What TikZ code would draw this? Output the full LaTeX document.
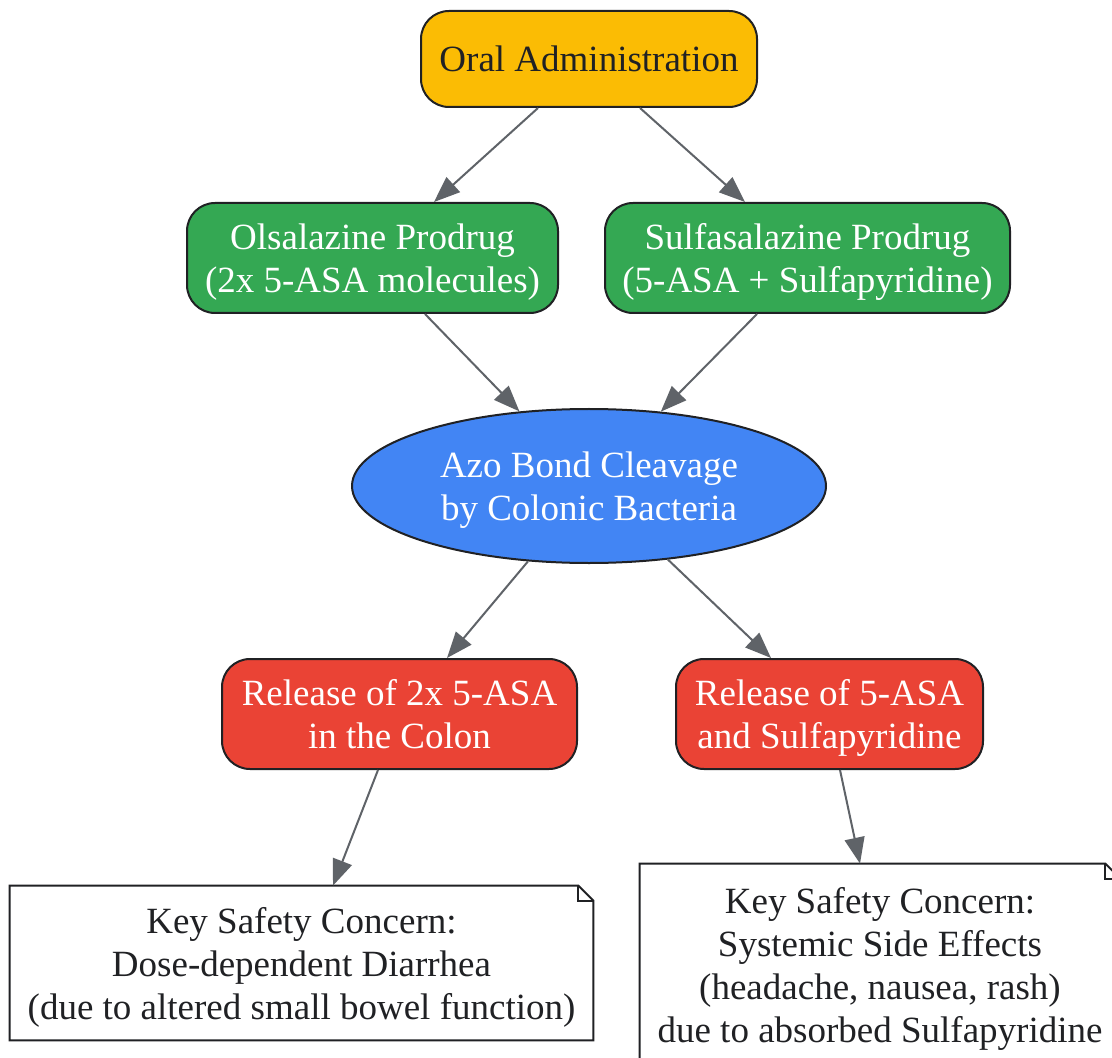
\documentclass[tikz,border=0pt]{standalone}
\usepackage{fontspec}
\setmainfont{Liberation Serif}
\usepackage{xcolor}
\usetikzlibrary{arrows.meta,shapes.geometric,calc}

\definecolor{inkdark}{HTML}{202124}
\definecolor{edgegray}{HTML}{5F6368}
\definecolor{gyellow}{HTML}{FBBC04}
\definecolor{ggreen}{HTML}{34A853}
\definecolor{gblue}{HTML}{4285F4}
\definecolor{gred}{HTML}{EA4335}

\tikzset{
  box/.style={draw=inkdark, line width=1pt, rounded corners=14pt, align=center,
    inner sep=2pt, text=white, text depth=0pt, font=\fontsize{18.5}{21.5}\selectfont},
  azo/.style={ellipse, draw=inkdark, line width=1pt, fill=gblue, align=center,
    inner sep=0pt, text=white, text depth=0pt, font=\fontsize{18.5}{21.5}\selectfont},
  notebox/.style={fill=white, align=center, inner sep=2pt, text=inkdark,
    text depth=0pt, font=\fontsize{18.5}{21.5}\selectfont},
  link/.style={draw=edgegray, line width=1pt, -{Triangle[length=13pt,width=10pt]}}
}

\begin{document}
\begin{tikzpicture}[x=0.5pt, y=-0.5pt]
  % Page size and white ground
  \fill[white] (0,0) rectangle (1112,1058);
  \useasboundingbox (0,0) rectangle (1112,1058);

  % Nodes
  \node[box, fill=gyellow, text=inkdark, minimum width=168pt, minimum height=48pt]
    (oral) at (589,59) {Oral Administration};
  \node[box, fill=ggreen, minimum width=185.5pt, minimum height=55pt]
    (olsa) at (372.5,258) {Olsalazine Prodrug\\(2x 5-ASA molecules)};
  \node[box, fill=ggreen, minimum width=202.5pt, minimum height=55pt]
    (sulfa) at (807.5,258) {Sulfasalazine Prodrug\\(5-ASA + Sulfapyridine)};
  \node[azo, minimum width=237pt, minimum height=77pt]
    (cleave) at (589,486) {Azo Bond Cleavage\\by Colonic Bacteria};
  \node[box, fill=gred, minimum width=177.5pt, minimum height=55pt]
    (relolsa) at (399.5,714) {Release of 2x 5-ASA\\in the Colon};
  \node[box, fill=gred, minimum width=153.5pt, minimum height=55pt]
    (relsulfa) at (829.5,714) {Release of 5-ASA\\and Sulfapyridine};
  \node[notebox, minimum width=291.5pt, minimum height=77pt]
    (noteolsa) at (301.5,963) {Key Safety Concern:\\Dose-dependent Diarrhea\\(due to altered small bowel function)};
  \node[notebox, minimum width=240pt, minimum height=101pt]
    (notesulfa) at (880,965) {Key Safety Concern:\\Systemic Side Effects\\(headache, nausea, rash)\\due to absorbed Sulfapyridine};

  % Note outlines with folded corner
  \foreach \n in {noteolsa,notesulfa}{
    \draw[inkdark, line width=1pt]
      (\n.north west) -- ($(\n.north east)+(-15,0)$) -- ($(\n.north east)+(0,15)$)
      -- (\n.south east) -- (\n.south west) -- cycle;
    \draw[inkdark, line width=1pt]
      ($(\n.north east)+(-15,0)$) -- ($(\n.north east)+(-15,15)$) -- ($(\n.north east)+(0,15)$);
  }

  % Connectors
  \draw[link] ($(oral.south)+(-51,0)$) -- ($(olsa.north)+(61.5,0)$);
  \draw[link] ($(oral.south)+(51,0)$) -- ($(sulfa.north)+(-62.5,0)$);
  \draw[link] ($(olsa.south)+(52.5,0)$) -- (cleave.133);
  \draw[link] ($(sulfa.south)+(-50.5,0)$) -- (cleave.46);
  \draw[link] (cleave.-129) -- ($(relolsa.north)+(47.5,0)$);
  \draw[link] (cleave.-43) -- ($(relsulfa.north)+(-58.5,0)$);
  \draw[link] ($(relolsa.south)+(-21.5,0)$) -- ($(noteolsa.north)+(31.5,0)$);
  \draw[link] ($(relsulfa.south)+(10.5,0)$) -- ($(notesulfa.north)+(-20,0)$);
\end{tikzpicture}
\end{document}
